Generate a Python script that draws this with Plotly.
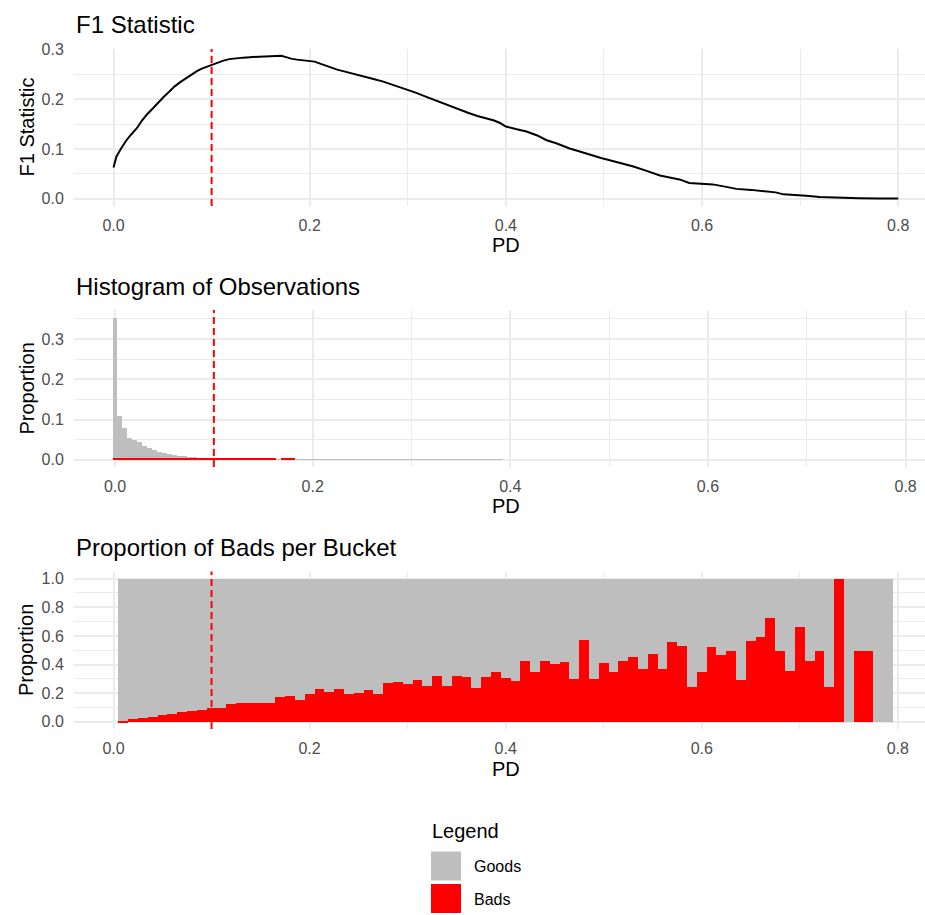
import plotly.graph_objects as go

# ---------------- data ----------------
f1_pd = [0.000, 0.003, 0.008, 0.013, 0.018, 0.024, 0.029, 0.034, 0.040, 0.045,
         0.051, 0.057, 0.062, 0.068, 0.074, 0.079, 0.085, 0.090, 0.095, 0.100,
         0.106, 0.112, 0.118, 0.125, 0.132, 0.139, 0.146, 0.153, 0.160, 0.166,
         0.171, 0.176, 0.181, 0.187, 0.193, 0.199, 0.205, 0.212, 0.220, 0.228,
         0.236, 0.245, 0.255, 0.265, 0.275, 0.283, 0.291, 0.299, 0.308, 0.317,
         0.326, 0.335, 0.344, 0.353, 0.362, 0.371, 0.380, 0.388, 0.394, 0.400,
         0.410, 0.421, 0.432, 0.441, 0.452, 0.465, 0.477, 0.489, 0.497, 0.503,
         0.515, 0.530, 0.542, 0.557, 0.567, 0.577, 0.587, 0.600, 0.611, 0.622,
         0.635, 0.650, 0.665, 0.675, 0.683, 0.695, 0.706, 0.720, 0.740, 0.760,
         0.780, 0.800]
f1_stat = [0.063, 0.085, 0.102, 0.117, 0.129, 0.142, 0.157, 0.169, 0.181, 0.192,
           0.204, 0.215, 0.225, 0.234, 0.242, 0.249, 0.256, 0.261, 0.265, 0.269,
           0.273, 0.277, 0.280, 0.282, 0.283, 0.284, 0.2845, 0.285, 0.285, 0.2855,
           0.2868, 0.284, 0.281, 0.279, 0.278, 0.277, 0.275, 0.270, 0.264, 0.259,
           0.255, 0.250, 0.245, 0.240, 0.235, 0.230, 0.225, 0.219, 0.213, 0.206,
           0.199, 0.192, 0.185, 0.179, 0.172, 0.166, 0.161, 0.157, 0.152, 0.145,
           0.140, 0.135, 0.127, 0.118, 0.111, 0.101, 0.094, 0.086, 0.082, 0.079,
           0.073, 0.065, 0.057, 0.047, 0.043, 0.039, 0.032, 0.031, 0.029, 0.025,
           0.020, 0.018, 0.015, 0.013, 0.009, 0.008, 0.006, 0.0035, 0.002, 0.0013,
           0.0008, 0.0005]

cutoff = [0.1]

hist_goods = [0.353, 0.109, 0.0786, 0.0538, 0.0496, 0.0447, 0.0347, 0.029, 0.024, 0.020,
              0.0165, 0.014, 0.0116, 0.0099, 0.0087, 0.0074, 0.0066, 0.0058, 0.0051, 0.0046,
              0.0041, 0.0037, 0.0034, 0.0031, 0.0028, 0.0026, 0.0024, 0.0022, 0.0020, 0.0019,
              0.0017, 0.0016, 0.0015, 0.0014, 0.0013, 0.0012, 0.0011, 0.0010, 0.0009, 0.0009,
              0.0008, 0.0008, 0.0007, 0.0007, 0.0007, 0.0006, 0.0006, 0.0006, 0.0005, 0.0005,
              0.0005, 0.0005, 0.0004, 0.0004, 0.0004, 0.0004, 0.0004, 0.0003, 0.0003, 0.0003,
              0.0003, 0.0003, 0.0003, 0.0003, 0.0002, 0.0002, 0.0002, 0.0002, 0.0002, 0.0002,
              0.0002, 0.0002, 0.0002, 0.0002, 0.0002, 0.0002, 0.0004, 0.0003, 0.0002]
hist_bads = [0.0032, 0.0031, 0.0030, 0.0030, 0.0030, 0.0030, 0.0030, 0.0030, 0.0030, 0.0030,
             0.0030, 0.0030, 0.0030, 0.0030, 0.0030, 0.0030, 0.0030, 0.0030, 0.0030, 0.0030,
             0.0030, 0.0030, 0.0030, 0.0030, 0.0030, 0.0030, 0.0030, 0.0030, 0.0030, 0.0030,
             0.0030, 0.0030, 0.0030, 0.0, 0.0030, 0.0030, 0.0030]
hist_width = 0.005
hist_pd = [round(i * hist_width, 3) for i in range(len(hist_goods))]
hist_pd_bads = hist_pd[:len(hist_bads)]

bucket_bad_share = [0.012, 0.021, 0.030, 0.040, 0.049, 0.060, 0.072, 0.079, 0.088, 0.102,
                    0.102, 0.130, 0.135, 0.137, 0.137, 0.133, 0.179, 0.184, 0.156, 0.195,
                    0.236, 0.210, 0.233, 0.201, 0.207, 0.228, 0.198, 0.278, 0.281, 0.266,
                    0.298, 0.255, 0.323, 0.254, 0.326, 0.319, 0.240, 0.316, 0.353, 0.309,
                    0.288, 0.428, 0.349, 0.428, 0.407, 0.421, 0.302, 0.572, 0.305, 0.414,
                    0.349, 0.428, 0.459, 0.372, 0.479, 0.374, 0.563, 0.535, 0.247, 0.353,
                    0.523, 0.470, 0.498, 0.298, 0.570, 0.598, 0.728, 0.498, 0.360, 0.665,
                    0.426, 0.498, 0.247, 1.000, 0.000, 0.500, 0.500, 0.000, 0.000]
bucket_width = 0.01
bucket_pd = [round((i + 1) * bucket_width, 2) for i in range(len(bucket_bad_share))]
bucket_good_share = [round(1 - b, 3) for b in bucket_bad_share]

x_ticks = [0.0, 0.2, 0.4, 0.6, 0.8]

# ---------------- style ----------------
W, H = 925, 915
GOODS = "#BEBEBE"
BADS = "#FF0000"
GRID = "#EBEBEB"
TICK = "#4D4D4D"
FONT = "Liberation Sans, Arial, sans-serif"

def py(px):
    return 1 - px / H

fig = go.Figure()

# panel 1
fig.add_trace(go.Scatter(x=f1_pd, y=f1_stat, mode="lines",
                         line=dict(color="black", width=2), showlegend=False,
                         xaxis="x", yaxis="y"))
# panel 2 (bads drawn over goods)
fig.add_trace(go.Bar(x=hist_pd, y=hist_goods, width=hist_width, marker=dict(color=GOODS, line=dict(width=0)),
                     name="Goods", showlegend=False, xaxis="x2", yaxis="y2"))
fig.add_trace(go.Bar(x=hist_pd_bads, y=hist_bads, width=hist_width, marker=dict(color=BADS, line=dict(width=0)),
                     name="Bads", showlegend=False, xaxis="x2", yaxis="y2"))
# panel 3 (goods stacked on top of bads via base)
fig.add_trace(go.Bar(x=bucket_pd, y=bucket_bad_share, width=bucket_width, marker=dict(color=BADS, line=dict(width=0)),
                     name="Bads", showlegend=False, xaxis="x3", yaxis="y3"))
fig.add_trace(go.Bar(x=bucket_pd, y=bucket_good_share, base=bucket_bad_share, width=bucket_width,
                     marker=dict(color=GOODS, line=dict(width=0)),
                     name="Goods", showlegend=False, xaxis="x3", yaxis="y3"))

xdom = [74 / W, 1.0]
panels = {
    "1": dict(top=49, bot=206, xr=[-0.0403, 0.8273], yr=[-0.0143, 0.3003], ydt=0.1, ymin=0.05),
    "2": dict(top=310, bot=467, xr=[-0.0415, 0.8196], yr=[-0.0177, 0.3717], ydt=0.1, ymin=0.05),
    "3": dict(top=571.5, bot=729, xr=[-0.0403, 0.8277], yr=[-0.05, 1.05], ydt=0.2, ymin=0.1),
}

axis_common = dict(showline=False, zeroline=False, showgrid=True, gridcolor=GRID, gridwidth=1.8,
                   ticks="outside", tickcolor="rgba(0,0,0,0)", automargin=False,
                   tickfont=dict(family=FONT, size=16, color=TICK), tickformat=".1f")

layout = dict(width=W, height=H, margin=dict(l=0, r=0, t=0, b=0, pad=0, autoexpand=False),
              paper_bgcolor="white", plot_bgcolor="white",
              barmode="overlay", bargap=0, showlegend=False,
              font=dict(family=FONT))

for k, p in panels.items():
    xname = "xaxis" if k == "1" else f"xaxis{k}"
    yname = "yaxis" if k == "1" else f"yaxis{k}"
    ax = "x" if k == "1" else f"x{k}"
    ay = "y" if k == "1" else f"y{k}"
    layout[xname] = dict(axis_common, domain=xdom, range=p["xr"], anchor=ay,
                         tickmode="array", tickvals=x_ticks, ticklen=5,
                         minor=dict(showgrid=True, gridcolor=GRID, gridwidth=0.9, dtick=0.1, tick0=0))
    layout[yname] = dict(axis_common, domain=[py(p["bot"]), py(p["top"])], range=p["yr"], anchor=ax,
                         dtick=p["ydt"], tick0=0, ticklen=6,
                         minor=dict(showgrid=True, gridcolor=GRID, gridwidth=0.9, dtick=p["ymin"], tick0=0))

fig.update_layout(**layout)

# cutoff lines
for k in ["", "2", "3"]:
    fig.add_shape(type="line", xref=f"x{k}", yref=f"y{k} domain",
                  x0=cutoff[0], x1=cutoff[0], y0=0, y1=1,
                  line=dict(color=BADS, width=2, dash="7px,4px"), layer="above")

annots = []
titles = [("F1 Statistic", 24), ("Histogram of Observations", 287), ("Proportion of Bads per Bucket", 547)]
for t, yc in titles:
    annots.append(dict(text=t, x=74 / W, y=py(yc), xref="paper", yref="paper", xanchor="left",
                       yanchor="middle", showarrow=False, font=dict(family=FONT, size=24, color="black")))
ytitles = [("F1 Statistic", 127.5), ("Proportion", 388.5), ("Proportion", 650)]
for t, yc in ytitles:
    annots.append(dict(text=t, x=26 / W, y=py(yc), xref="paper", yref="paper", xanchor="center",
                       yanchor="middle", textangle=-90, showarrow=False,
                       font=dict(family=FONT, size=20, color="black")))
for yc in [245, 506, 769]:
    annots.append(dict(text="PD", x=505.5 / W, y=py(yc), xref="paper", yref="paper", xanchor="center",
                       yanchor="middle", showarrow=False, font=dict(family=FONT, size=20, color="black")))

# legend (drawn manually to match large key boxes)
annots.append(dict(text="Legend", x=430 / W, y=py(831), xref="paper", yref="paper", xanchor="left",
                   yanchor="middle", showarrow=False, font=dict(family=FONT, size=20, color="black")))
legend_items = [("Goods", GOODS, 851.5), ("Bads", BADS, 884)]
for name, col, top in legend_items:
    fig.add_shape(type="rect", xref="paper", yref="paper", x0=431 / W, x1=461 / W,
                  y0=py(top + 29), y1=py(top), fillcolor=col, line=dict(width=0))
    annots.append(dict(text=name, x=472 / W, y=py(top + 15), xref="paper", yref="paper", xanchor="left",
                       yanchor="middle", showarrow=False, font=dict(family=FONT, size=16, color="black")))

fig.update_layout(annotations=annots)
fig.write_html("out.html")
